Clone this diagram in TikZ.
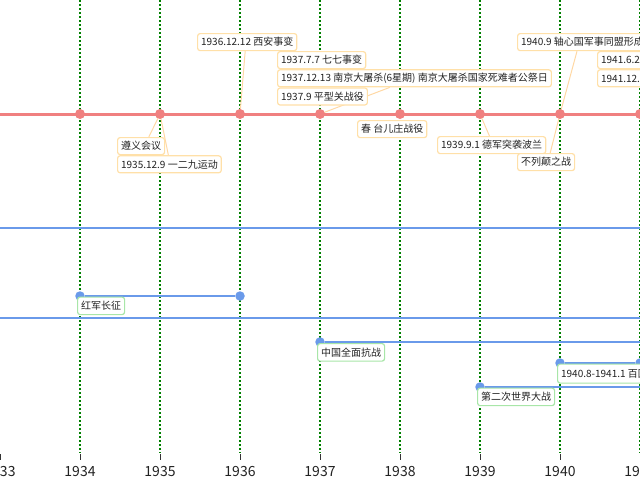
\documentclass[tikz,border=0pt]{standalone}
\usepackage{fontspec}
\setmainfont{Noto Sans CJK SC}
\usepackage{xcolor}
\usepackage{tikz}
\usetikzlibrary{positioning,calc,backgrounds}
\definecolor{tlred}{HTML}{F08080}
\definecolor{tlblue}{HTML}{6A9AEA}
\definecolor{tlgreen}{HTML}{008000}
\definecolor{evtedge}{HTML}{FFE0A8}
\definecolor{stemcol}{HTML}{FFD8A4}
\definecolor{rngedge}{HTML}{A8E6A8}
\definecolor{txtdark}{HTML}{222222}

\begin{document}
\begin{tikzpicture}[
  x=1pt,y=-1pt,
  font=\fontsize{10}{12}\selectfont,
  evt/.style={draw=evtedge,line width=1.2pt,fill=white,rounded corners=2.5pt,
              anchor=north west,inner xsep=3.5pt,inner ysep=0pt,
              minimum height=17pt,text=txtdark},
  rng/.style={evt,draw=rngedge,minimum height=17.5pt},
  evtdot/.style={circle,fill=tlred,inner sep=0pt,minimum size=10pt},
  rngdot/.style={circle,fill=tlblue,inner sep=0pt,minimum size=9.5pt},
  evtstem/.style={draw=stemcol,line width=1pt},
  yearline/.style={draw=tlgreen,line width=2pt,dash pattern=on 2pt off 2pt},
  rngline/.style={draw=tlblue,line width=2pt},
]
\useasboundingbox (0,0) rectangle (640,480);
\clip (0,0) rectangle (640,480);

% Year marks on the event row
\foreach \yr [count=\i] in {1934,...,1941}
  \coordinate (y\yr) at (80*\i,114);
\foreach \yr in {1934,...,1941}
  \node[evtdot] (d\yr) at (y\yr) {};

% Event labels
\node[evt] (zunyi) at (117,137) {遵义会议};
\node[evt,below=0pt of zunyi.south west,anchor=north west] (yierjiu) {1935.12.9 一二九运动};
\node[evt] (xian) at (197,33) {1936.12.12 西安事变};
\node[evt] (qiqi) at (277,51) {1937.7.7 七七事变};
\node[evt,below=0pt of qiqi.south west,anchor=north west] (nanjing)
  {1937.12.13 南京大屠杀(6星期) 南京大屠杀国家死难者公祭日};
\node[evt,below=0pt of nanjing.south west,anchor=north west] (pingxing) {1937.9 平型关战役};
\node[evt] (taierzhuang) at (357,120) {春 台儿庄战役};
\node[evt] (poland) at (437,136) {1939.9.1 德军突袭波兰};
\node[evt] (britain) at (517,153) {不列颠之战};
\node[evt] (axis) at (517,33) {1940.9 轴心国军事同盟形成};
\node[evt] (sude) at (597,51) {1941.6.22 苏德战争爆发};
\node[evt,below=0pt of sude.south west,anchor=north west] (zhenzhu) {1941.12.7 珍珠港事件};

% Range items
\node[rngdot] (cz0) at (80,296) {};
\node[rngdot] (cz1) at (240,296) {};
\node[rng] (changzheng) at (77,296.5) {红军长征};
\node[rngdot] (kz0) at (320,342) {};
\coordinate (kz1) at (640,342);
\node[rng] (kangzhan) at (317,343) {中国全面抗战};
\node[rngdot] (bt0) at (560,363) {};
\node[rngdot] (bt1) at (640,363) {};
\node[rng,minimum height=19pt] (baituan) at (557,363.5) {1940.8-1941.1 百团大战};
\node[rngdot] (ez0) at (480,387) {};
\coordinate (ez1) at (640,387);
\node[rng] (erzhan) at (477,387.5) {第二次世界大战};

% Axis
\foreach \yr [count=\i from 0] in {1933,...,1941} {
  \draw[black!80,line width=0.8pt] (80*\i,454) -- (80*\i,460);
  \node[font=\fontsize{14}{16}\selectfont,text=txtdark] (ax\yr) at (80*\i,472) {\yr};
}

\begin{scope}[on background layer]
  % Grid, rows and group dividers
  \foreach \i in {1,...,8}
    \draw[yearline] (80*\i,0) -- (80*\i,453);
  \draw[tlred,line width=3pt] (0,114) -- (640,114);
  \draw[tlblue,line width=1.5pt] (0,228) -- (640,228);
  \draw[tlblue,line width=1.5pt] (0,318) -- (640,318);

  % Stems from year marks to their labels
  \draw[evtstem] (y1935) -- ($(zunyi.north west)!0.66!(zunyi.north east)$);
  \draw[evtstem] (y1935) -- ($(yierjiu.north west)!0.49!(yierjiu.north east)$);
  \draw[evtstem] (y1936) -- ($(xian.south west)!0.48!(xian.south east)$);
  \draw[evtstem] (y1937) -- ($(nanjing.south west)!0.41!(nanjing.south east)$);
  \draw[evtstem] (y1939) -- ($(poland.north west)!0.48!(poland.north east)$);
  \draw[evtstem] (y1940) -- ($(britain.north west)!0.57!(britain.north east)$);
  \draw[evtstem] (y1940) -- ($(axis.south west)+(60,0)$);

  % Range bars
  \draw[rngline] (cz0) -- (cz1);
  \draw[rngline] (kz0) -- (kz1);
  \draw[rngline] (bt0) -- (bt1);
  \draw[rngline] (ez0) -- (ez1);
\end{scope}
\end{tikzpicture}
\end{document}
